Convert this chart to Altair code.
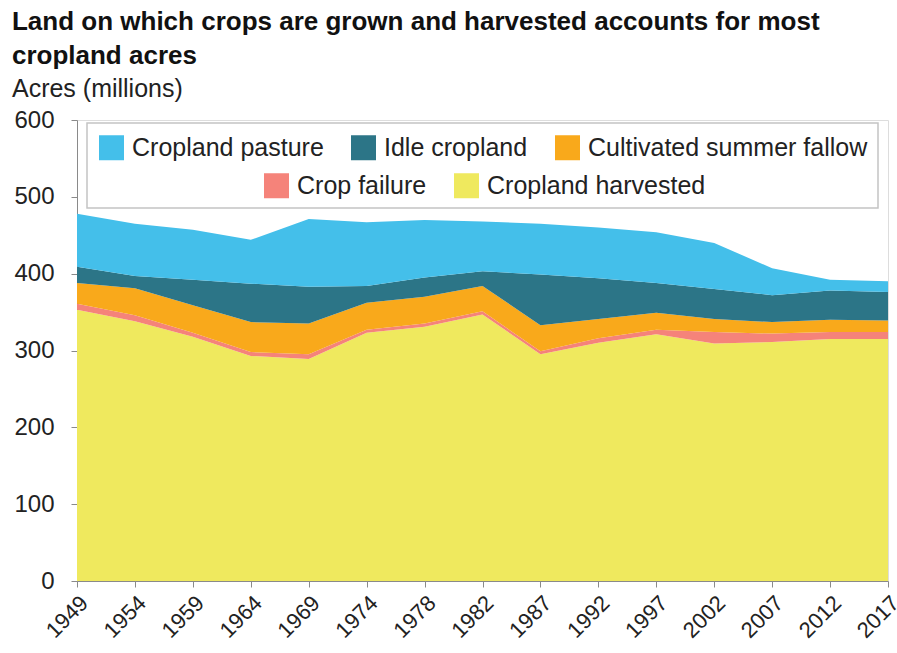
import altair as alt
import pandas as pd

years = ["1949", "1954", "1959", "1964", "1969", "1974", "1978", "1982",
         "1987", "1992", "1997", "2002", "2007", "2012", "2017"]
harvested = [353, 338, 318, 293, 289, 323, 331, 347, 295, 310, 321, 309, 311, 315, 315]
failure = [8, 8, 5, 5, 6, 4, 4, 4, 4, 6, 6, 15, 11, 9, 9]
fallow = [27, 35, 36, 39, 40, 35, 35, 33, 34, 25, 22, 17, 15, 16, 15]
idle = [21, 16, 33, 50, 48, 22, 25, 19, 66, 53, 39, 39, 35, 38, 37]
pasture = [69, 68, 65, 57, 88, 83, 75, 65, 66, 66, 66, 60, 35, 14, 14]

series_names = ["Cropland harvested", "Crop failure", "Cultivated summer fallow",
                "Idle cropland", "Cropland pasture"]
series_values = [harvested, failure, fallow, idle, pasture]

rows = []
for i, (name, vals) in enumerate(zip(series_names, series_values)):
    for y, v in zip(years, vals):
        rows.append({"year": y, "series": name, "value": v, "order": i})
df = pd.DataFrame(rows)

FONT = "Liberation Sans"

base = alt.Chart(df).transform_window(
    cum="sum(value)", groupby=["year"], sort=[alt.SortField("order")], frame=[None, 0]
).transform_calculate(lo="datum.cum - datum.value")

x_enc = alt.X("year:O", sort=years, scale=alt.Scale(padding=0),
              axis=alt.Axis(title=None, labelAngle=-45, labelAlign="right",
                            labelBaseline="top", labelFontSize=22, labelPadding=5,
                            tickSize=6, domainColor="#8a8a8a", tickColor="#8a8a8a",
                            labelColor="#222222", labelFont=FONT))
y_enc = alt.Y("cum:Q", stack=None, scale=alt.Scale(domain=[0, 600], nice=False),
              axis=alt.Axis(title=None, values=[0, 100, 200, 300, 400, 500, 600],
                            labelFontSize=24, labelPadding=17, tickSize=6,
                            domainColor="#8a8a8a", tickColor="#8a8a8a",
                            labelColor="#222222", labelFont=FONT, grid=False))

top_names = ["Cropland pasture", "Idle cropland", "Cultivated summer fallow"]
top_colors = ["#44BFEA", "#2C7587", "#F9A91B"]
bot_names = ["Crop failure", "Cropland harvested"]
bot_colors = ["#F5837A", "#EFE95E"]

def legend(lx, ly, cols):
    return alt.Legend(orient="none", legendX=lx, legendY=ly, direction="horizontal",
                      columns=cols, title=None, symbolType="square", symbolSize=625,
                      symbolStrokeWidth=0, symbolOpacity=1, labelFontSize=25,
                      labelOffset=8, columnPadding=27, labelFont=FONT,
                      labelColor="#222222", padding=0, labelLimit=400)

box = alt.Chart(pd.DataFrame({"k": [0]})).mark_rect(
    fill="white", stroke="#c4c4c4", strokeWidth=1.5
).encode(x=alt.value(10), x2=alt.value(801), y=alt.value(3), y2=alt.value(88))

area_bot = base.transform_filter("datum.order < 2").mark_area(opacity=1).encode(
    x=x_enc, y=y_enc, y2="lo:Q",
    color=alt.Color("series:N", scale=alt.Scale(domain=bot_names, range=bot_colors),
                    legend=legend(187, 53, 2)),
)
area_top = base.transform_filter("datum.order >= 2").mark_area(opacity=1).encode(
    x=x_enc, y=y_enc, y2="lo:Q",
    color=alt.Color("series:N", scale=alt.Scale(domain=top_names, range=top_colors),
                    legend=legend(22, 15, 3)),
)

chart = alt.layer(area_bot, area_top, box).resolve_scale(color="independent").properties(
    width=811, height=461,
    autosize=alt.AutoSizeParams(type="none"),
    padding={"left": 77, "top": 120, "right": 9, "bottom": 72},
    title=alt.TitleParams(
        text=["Land on which crops are grown and harvested accounts for most",
              "cropland acres"],
        subtitle="Acres (millions)",
        anchor="start", frame="bounds", font=FONT, fontSize=26, fontWeight="bold",
        lineHeight=34, color="#111111", subtitleFont=FONT, subtitleFontSize=25,
        subtitleColor="#222222", subtitlePadding=8, offset=6, dx=-2,
    ),
).configure_view(stroke=None).configure(background="white")

chart.save("out.html", embed_options={"renderer": "svg", "actions": False})
